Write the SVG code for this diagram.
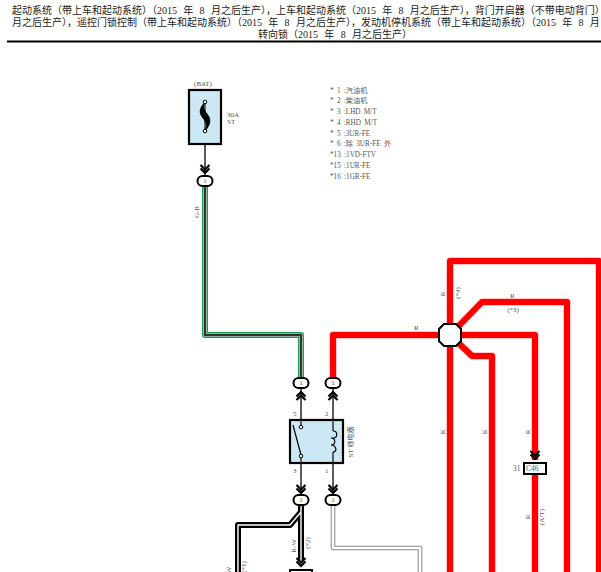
<svg xmlns="http://www.w3.org/2000/svg" width="601" height="572" viewBox="0 0 601 572">
<style>
text{font-family:"Liberation Serif","Noto Sans CJK SC",serif}
.h{font-size:10px;fill:#222;word-spacing:3.8px}
.l{font-size:7.2px;fill:#555;word-spacing:1.5px}
.s{font-size:7px;fill:#555}
.w{fill:none;stroke-linejoin:round}
.rp{stroke:#ffb8b8;stroke-width:7.5}
.r{stroke:#f00;stroke-width:6}
.g1{stroke:#16a04e;stroke-width:6}
.g2{stroke:#d8eee0;stroke-width:3.6}
.g3{stroke:#333;stroke-width:2.4}
.b1{stroke:#000;stroke-width:6}
.b2{stroke:#fff;stroke-width:1.4}
.gy1{stroke:#888;stroke-width:4.6}
.gy2{stroke:#fff;stroke-width:2.6}
.t{stroke:#333;stroke-width:1.6;fill:none}
.c{fill:#fff;stroke:#000;stroke-width:2}
.a{fill:none;stroke:#000;stroke-width:2.2}
.box{fill:#cce8f4;stroke:#000;stroke-width:2.2}
</style>
<defs>
<g id="conn"><rect class="c" x="-7.5" y="-5" width="15" height="10" rx="5"/><text class="s" y="2.3" text-anchor="middle">1</text></g>
<path id="dn" d="M-4.5 -6L0 -1.5L4.5 -6M-4.5 -2.500L0 2L4.500 -2.500" class="a"/>
<path id="up" d="M-4.5 6L0 1.5L4.5 6M-4.5 2.500L0 -2L4.500 2.500" class="a"/>
</defs>
<g id="header">
<text class="h" x="12" y="14">起动系统（带上车和起动系统）（2015 年 8 月之后生产），上车和起动系统（2015 年 8 月之后生产），背门开启器（不带电动背门）</text>
<text class="h" x="12" y="26">月之后生产），遥控门锁控制（带上车和起动系统）（2015 年 8 月之后生产），发动机停机系统（带上车和起动系统）（2015 年 8 月</text>
<text class="h" x="335" y="38" text-anchor="middle">转向锁（2015 年 8 月之后生产）</text>
<rect x="7" y="40.500" width="594" height="2" fill="#000"/>
</g>
<g id="legend">
<text class="l" x="330" y="92.500">* 1 :汽油机</text>
<text class="l" x="330" y="103">* 2 :柴油机</text>
<text class="l" x="330" y="114">* 3 :LHD M/T</text>
<text class="l" x="330" y="124.500">* 4 :RHD M/T</text>
<text class="l" x="330" y="135.500">* 5 :3UR-FE</text>
<text class="l" x="330" y="146">* 6 :除 3UR-FE 外</text>
<text class="l" x="330" y="157">*13 :1VD-FTV</text>
<text class="l" x="330" y="167.500">*15 :1UR-FE</text>
<text class="l" x="330" y="178.500">*16 :1GR-FE</text>
</g>
<g id="connectors">
<path class="w rp" d="M333 378V335H450M450 572V261H599V572M450 335L482 302H567V572M450 335H535V460M535 472V572M450 335L472 356H492V572"/>
<path class="w r" d="M333 378V335H450M450 572V261H599V572M450 335L482 302H567V572M450 335H535V460M535 472V572M450 335L472 356H492V572"/>
<path class="w g1" d="M205 186V335H301V378"/>
<path class="w g2" d="M205 186V335H301V378"/>
<path class="w g3" d="M205 186V335H301V378"/>
<path class="w b1" d="M301 505V560M301 512L290 525H238V572"/>
<path class="w b2" d="M301 505V560M301 512L290 525H238V572"/>
<path class="w gy1" d="M333 505V548H420V572"/>
<path class="w gy2" d="M333 505V548H420V572"/>
<path class="t" d="M205 138V176M301 388V420M333 388V420M301 463V495M333 463V495"/>
<use href="#dn" x="205" y="171"/>
<use href="#up" x="301" y="394"/>
<use href="#up" x="333" y="394"/>
<use href="#dn" x="301" y="491"/>
<use href="#dn" x="333" y="491"/>
<use href="#dn" x="301" y="564"/>
<use href="#dn" x="535" y="457"/>
</g>
<g id="fuse">
<text class="s" x="203" y="85.500" text-anchor="middle">(BAT)</text>
<rect class="box" x="189" y="90" width="32" height="54"/>
<path d="M205 102C199 109 199 113 203 118C207 123 207 126 205 131C211 124 211 119 207 114C203 109 203 106 205 102Z" fill="#000" stroke="#000"/>
<path d="M205 102V131" stroke="#000" stroke-width="1" fill="none"/>
<circle cx="205" cy="102" r="1.8" fill="#fff" stroke="#000"/>
<circle cx="205" cy="131" r="1.8" fill="#fff" stroke="#000"/>
<text class="s" x="227" y="116.500">30A</text>
<text class="s" x="227" y="123.500">ST</text>
</g>
<g id="c1"><use href="#conn" x="205" y="181"/></g>
<g id="c2"><use href="#conn" x="301" y="383"/></g>
<g id="c3"><use href="#conn" x="333" y="383"/></g>
<g id="c4"><use href="#conn" x="301" y="500"/></g>
<g id="c5"><use href="#conn" x="333" y="500"/></g>
<g id="relay">
<rect class="box" x="290" y="420" width="53" height="43"/>
<path d="M301 420V426M301 456V463M333 420V431M333 452V463" stroke="#333" stroke-width="1.5" fill="none"/>
<path d="M293 425L301 455" stroke="#000" stroke-width="1.2"/>
<circle cx="301" cy="427" r="1.8" fill="#fff" stroke="#000"/>
<circle cx="301" cy="456" r="1.8" fill="#fff" stroke="#000"/>
<path d="M333 431C338 431 338 438 333 438H331C336 438 336 445 331 445C336 445 338 452 333 452" stroke="#000" stroke-width="1.2" fill="none"/>
<text class="s" x="293" y="416">5</text>
<text class="s" x="325" y="416">2</text>
<text class="s" x="293" y="473">3</text>
<text class="s" x="325" y="473">1</text>
<text class="s" transform="translate(353 442) rotate(-90)" text-anchor="middle">ST 继电器</text>
</g>
<g id="hub"><polygon points="444,324 456,324 461,329 461,341 456,346 444,346 439,341 439,329" fill="#fff" stroke="#000" stroke-width="2"/></g>
<g id="c46">
<rect x="524" y="463" width="22" height="11" fill="#fff" stroke="#000" stroke-width="2"/>
<text class="s" x="526" y="471" style="font-size:7.500px">C46</text>
<text class="s" x="513" y="470.500" style="font-size:7.500px">31</text>
</g>
<g id="bottomconn"><rect x="290" y="570" width="22" height="6" fill="#fff" stroke="#000" stroke-width="2"/></g>
<g id="labels">
<text class="s" x="414" y="330">R</text>
<text class="s" x="510" y="298">R</text>
<text class="s" x="513" y="312" text-anchor="middle">(*3)</text>
<text class="s" transform="translate(445 294) rotate(-90)" text-anchor="middle">R</text>
<text class="s" transform="translate(460 293) rotate(-90)" text-anchor="middle">(*4)</text>
<text class="s" transform="translate(445 432) rotate(-90)" text-anchor="middle">R</text>
<text class="s" transform="translate(487 432) rotate(-90)" text-anchor="middle">R</text>
<text class="s" transform="translate(530 432) rotate(-90)" text-anchor="middle">R</text>
<text class="s" transform="translate(530 517) rotate(-90)" text-anchor="middle">R</text>
<text class="s" transform="translate(544 517) rotate(-90)" text-anchor="middle">(A/T)</text>
<text class="s" transform="translate(199 212) rotate(-90)" text-anchor="middle">G-B</text>
<text class="s" transform="translate(296 546) rotate(-90)" text-anchor="middle">R-W</text>
<text class="s" transform="translate(310 543) rotate(-90)" text-anchor="middle">(*2)</text>
<text class="s" transform="translate(231 570) rotate(-90)" text-anchor="middle">W</text>
<text class="s" transform="translate(246 567) rotate(-90)" text-anchor="middle">(*1)</text>
</g>
</svg>
